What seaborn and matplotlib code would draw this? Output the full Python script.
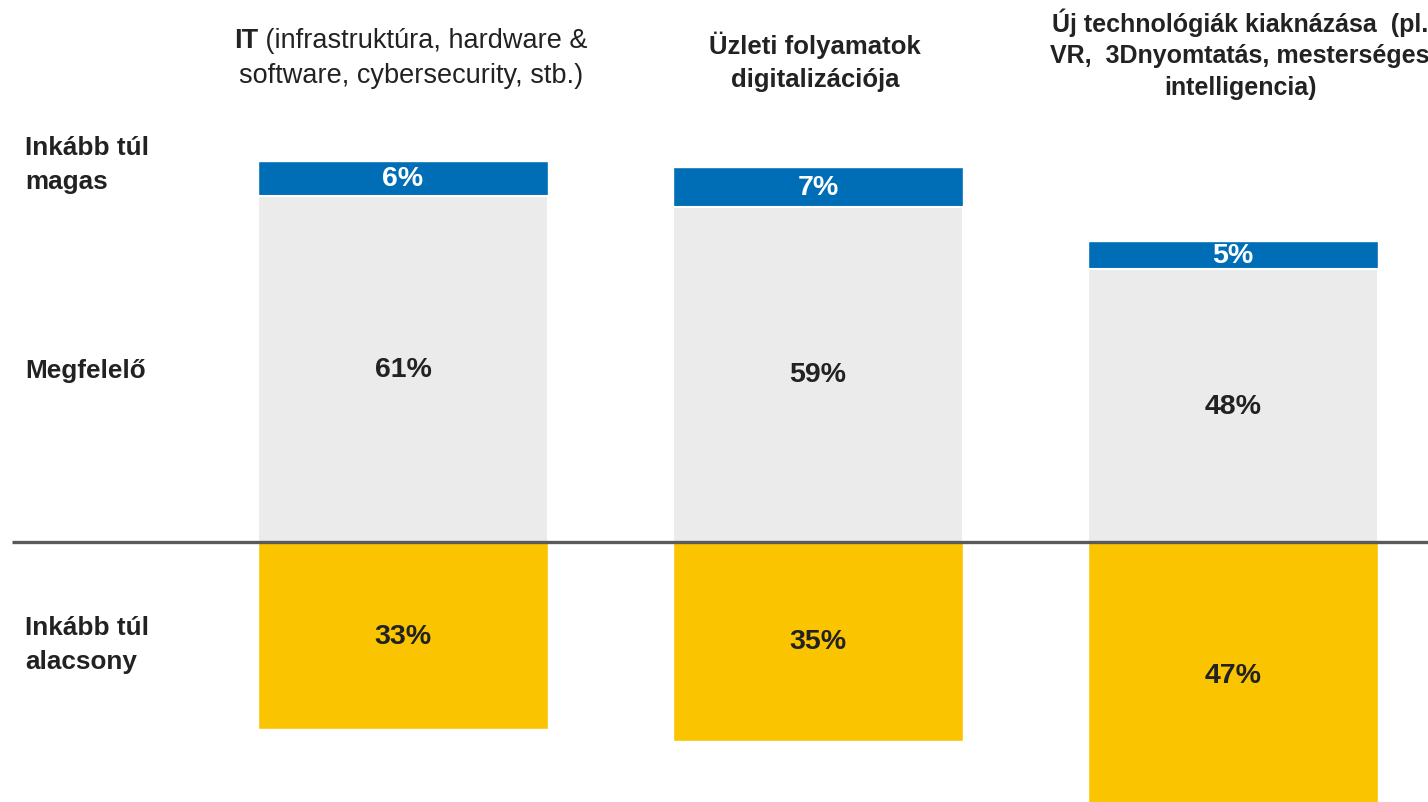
import matplotlib
matplotlib.use("Agg")
import matplotlib.pyplot as plt
import seaborn as sns
import numpy as np

# Data
categories = ["IT", "Üzleti folyamatok digitalizációja", "Új technológiák"]
too_high = [6, 7, 5]       # Inkább túl magas
adequate = [61, 59, 48]    # Megfelelő
too_low = [33, 35, 47]     # Inkább túl alacsony
row_labels = ["Inkább túl\nmagas", "Megfelelő", "Inkább túl\nalacsony"]

BLUE = "#006EB6"
GREY = "#EBEBEB"
YELLOW = "#FBC400"
DARK = "#222222"

sns.set_theme(style="white")
plt.rcParams["font.family"] = ["Liberation Sans", "DejaVu Sans"]

W, H = 1428, 803
fig = plt.figure(figsize=(W / 100, H / 100), dpi=100)
ax = fig.add_axes([0, 0, 1, 1])

# bar positions / scale: baseline at pixel 543, ~5.68 px per percent
px = 5.68
base_px = 543
spacing = 415
first_center = 403

top = np.array(adequate) + np.array(too_high)
sns.barplot(x=categories, y=top, color=BLUE, width=0.7, saturation=1, ax=ax)
sns.barplot(x=categories, y=adequate, color=GREY, width=0.7, saturation=1, ax=ax,
            edgecolor="white", linewidth=1.5)
sns.barplot(x=categories, y=[-v for v in too_low], color=YELLOW, width=0.7,
            saturation=1, ax=ax)

ax.set_xlim(-first_center / spacing, (W - first_center) / spacing)
ax.set_ylim(-(H - base_px) / px, base_px / px)
ax.axis("off")

# baseline
ax.plot([(12 - first_center) / spacing, (W - first_center) / spacing], [0, 0],
        color="#5A5A5A", lw=2.4, solid_capstyle="butt", zorder=5)

# value labels
vs = 20.5
for i in range(len(categories)):
    ax.text(i, adequate[i] + too_high[i] / 2, f"{too_high[i]}%", ha="center",
            va="center", color="white", fontsize=vs, fontweight="bold")
    ax.text(i, adequate[i] / 2, f"{adequate[i]}%", ha="center", va="center",
            color=DARK, fontsize=vs, fontweight="bold")
    ax.text(i, -too_low[i] / 2, f"{too_low[i]}%", ha="center", va="center",
            color=DARK, fontsize=vs, fontweight="bold")

# row labels on the left
def fy(p):
    return 1 - p / H

rs = 18.8
fig.text(25 / W, fy(165), row_labels[0], ha="left", va="center", fontsize=rs,
         fontweight="bold", color=DARK, linespacing=1.5)
fig.text(25 / W, fy(371), row_labels[1], ha="left", va="center", fontsize=rs,
         fontweight="bold", color=DARK)
fig.text(25 / W, fy(645), row_labels[2], ha="left", va="center", fontsize=rs,
         fontweight="bold", color=DARK, linespacing=1.5)

# column headers
hs = 19.5
renderer = fig.canvas.get_renderer()
t1 = fig.text(0, fy(41), "IT", ha="left", va="center", fontsize=hs,
              fontweight="bold", color=DARK)
t2 = fig.text(0, fy(41), " (infrastruktúra, hardware &", ha="left", va="center",
              fontsize=hs, color=DARK)
w1 = t1.get_window_extent(renderer).width
w2 = t2.get_window_extent(renderer).width
x0 = 411 - (w1 + w2) / 2
t1.set_x(x0 / W)
t2.set_x((x0 + w1) / W)
fig.text(411 / W, fy(76), "software, cybersecurity, stb.)", ha="center",
         va="center", fontsize=hs, color=DARK)

fig.text(815 / W, fy(62), "Üzleti folyamatok\ndigitalizációja", ha="center",
         va="center", fontsize=18.5, fontweight="bold", color=DARK, linespacing=1.5)

fig.text(1240 / W, fy(54),
         "Új technológiák kiaknázása  (pl.\nVR,  3Dnyomtatás, mesterséges\nintelligencia)",
         ha="center", va="center", fontsize=18, fontweight="bold", color=DARK,
         linespacing=1.4)

fig.savefig("out.png", dpi=100)
